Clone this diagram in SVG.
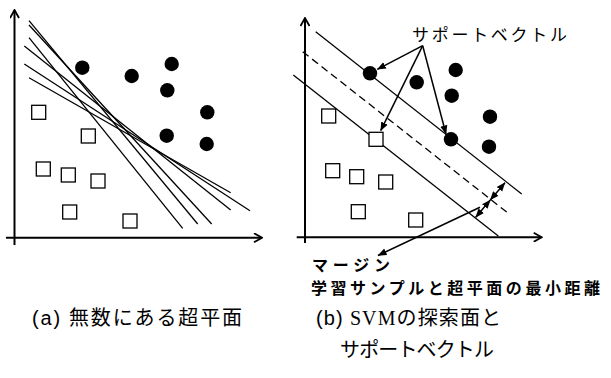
<svg xmlns="http://www.w3.org/2000/svg" width="611" height="378" viewBox="0 0 611 378">
<style>
.ax{stroke:#000;stroke-width:2;fill:none}
.hp{stroke:#000;stroke-width:1.3;fill:none}
.dot{fill:#000}
.sq{fill:#fff;stroke:#000;stroke-width:1.3}
.ptr{stroke:#000;stroke-width:1.5;fill:none}
.lbl{font-family:"Noto Sans CJK JP","Liberation Sans",sans-serif;font-size:17px;fill:#000}
.mlbl{font-family:"Noto Sans CJK JP","Liberation Sans",sans-serif;font-size:16px;font-weight:bold;fill:#000}
.cap{font-family:"Liberation Serif","Noto Sans CJK JP",serif;font-size:20px;fill:#000}
.capa{font-family:"Liberation Sans","Noto Sans CJK JP",sans-serif}
</style>
<defs>
<marker id="axh" viewBox="0 0 10 10" refX="9" refY="5" markerWidth="10" markerHeight="10" markerUnits="userSpaceOnUse" orient="auto">
<path d="M1,0.5 L9,5 L1,9.5" fill="none" stroke="#000" stroke-width="1.8"/>
</marker>
<marker id="ah" viewBox="0 0 10 10" refX="9.5" refY="5" markerWidth="9" markerHeight="9" markerUnits="userSpaceOnUse" orient="auto-start-reverse">
<path d="M0,1 L10,5 L0,9 Z" fill="#000"/>
</marker>
</defs>

<g id="panel-a">
<g id="axes-a">
<line class="ax" x1="14.5" y1="245" x2="14.5" y2="10" marker-end="url(#axh)"/>
<line class="ax" x1="6" y1="237.7" x2="262" y2="237.7" marker-end="url(#axh)"/>
</g>
<g id="hyperplanes-a">
<line class="hp" x1="29" y1="20.7" x2="197.7" y2="224"/>
<line class="hp" x1="29" y1="25" x2="211.7" y2="224"/>
<line class="hp" x1="29" y1="37.7" x2="182.7" y2="228.3"/>
<line class="hp" x1="24.3" y1="46" x2="230.7" y2="210"/>
<line class="hp" x1="24.3" y1="64" x2="250" y2="210.7"/>
<line class="hp" x1="29" y1="77.7" x2="230.7" y2="192.7"/>
</g>
<g id="circles-a">
<circle class="dot" cx="82.3" cy="67.7" r="7.2"/>
<circle class="dot" cx="131.7" cy="76" r="7.2"/>
<circle class="dot" cx="171.7" cy="64" r="7.2"/>
<circle class="dot" cx="167.3" cy="90.3" r="7.2"/>
<circle class="dot" cx="207.3" cy="112.3" r="7.2"/>
<circle class="dot" cx="166.7" cy="135.7" r="7.2"/>
<circle class="dot" cx="206.7" cy="144" r="7.2"/>
</g>
<g id="squares-a">
<rect class="sq" x="31.7" y="105.3" width="14" height="14"/>
<rect class="sq" x="81.3" y="129" width="14" height="14"/>
<rect class="sq" x="36.3" y="162" width="14" height="14"/>
<rect class="sq" x="61.3" y="168" width="14" height="14"/>
<rect class="sq" x="91" y="174" width="14" height="14"/>
<rect class="sq" x="62.7" y="205" width="14" height="14"/>
<rect class="sq" x="123" y="214" width="14" height="14"/>
</g>
<text id="caption-a" class="cap" x="32" y="325" textLength="210" lengthAdjust="spacing"><tspan class="capa">(a)</tspan> 無数にある超平面</text>
</g>

<g id="panel-b">
<g id="axes-b">
<line class="ax" x1="305" y1="243" x2="305" y2="18" marker-end="url(#axh)"/>
<line class="ax" x1="296.7" y1="237.3" x2="541.7" y2="237.3" marker-end="url(#axh)"/>
</g>
<g id="hyperplanes-b">
<line class="hp" x1="315.7" y1="31.7" x2="521.7" y2="194"/>
<line class="hp" x1="302.7" y1="51.7" x2="508.3" y2="213.3" stroke-width="2.8" stroke-dasharray="7.5,4.5"/>
<line class="hp" x1="293.3" y1="75" x2="498.3" y2="236"/>
</g>
<g id="circles-b">
<circle class="dot" cx="370" cy="73.3" r="7.2"/>
<circle class="dot" cx="416.7" cy="82.3" r="7.2"/>
<circle class="dot" cx="455.7" cy="70" r="7.2"/>
<circle class="dot" cx="451.7" cy="95.7" r="7.2"/>
<circle class="dot" cx="490" cy="116.7" r="7.2"/>
<circle class="dot" cx="451" cy="139.3" r="7.2"/>
<circle class="dot" cx="489" cy="146.7" r="7.2"/>
</g>
<g id="squares-b">
<rect class="sq" x="321.7" y="109" width="14" height="14"/>
<rect class="sq" x="369" y="132.3" width="14" height="14"/>
<rect class="sq" x="325.7" y="163.7" width="14" height="14"/>
<rect class="sq" x="349.7" y="169.7" width="14" height="14"/>
<rect class="sq" x="378.7" y="175" width="14" height="14"/>
<rect class="sq" x="351.3" y="204.7" width="14" height="14"/>
<rect class="sq" x="408.7" y="213" width="14" height="14"/>
</g>
<g id="connectors">
<line class="ptr" x1="422.7" y1="45.7" x2="377.3" y2="69.3" marker-end="url(#ah)"/>
<line class="ptr" x1="422.7" y1="45.7" x2="380.7" y2="130.7" marker-end="url(#ah)"/>
<line class="ptr" x1="422.7" y1="45.7" x2="446" y2="134" marker-end="url(#ah)"/>
<line class="ptr" x1="505" y1="182.7" x2="490.3" y2="200" marker-start="url(#ah)" marker-end="url(#ah)"/>
<line class="ptr" x1="490.3" y1="200" x2="475.7" y2="217.3" marker-start="url(#ah)" marker-end="url(#ah)"/>
<line class="ptr" x1="480" y1="207.3" x2="378" y2="255.5" marker-end="url(#ah)"/>
</g>
<text id="label-sv" class="lbl" x="412" y="41" textLength="155" lengthAdjust="spacing">サポートベクトル</text>
<text id="label-margin1" class="mlbl" x="312" y="270.5" textLength="78" lengthAdjust="spacing">マージン</text>
<text id="label-margin2" class="mlbl" x="311" y="294" textLength="289" lengthAdjust="spacing">学習サンプルと超平面の最小距離</text>
<text id="caption-b1" class="cap" x="316" y="325" textLength="185" lengthAdjust="spacing"><tspan class="capa">(b)</tspan> SVMの探索面と</text>
<text id="caption-b2" class="cap" x="340" y="357" textLength="154" lengthAdjust="spacing">サポートベクトル</text>
</g>
</svg>
